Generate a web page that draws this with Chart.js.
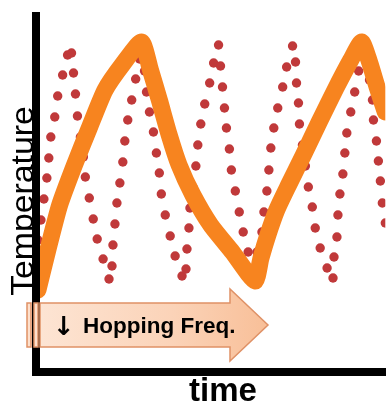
<!DOCTYPE html>
<html>
<head>
<meta charset="utf-8">
<script src="https://cdn.jsdelivr.net/npm/chart.js@4/dist/chart.umd.min.js"></script>
<style>
  html, body { margin: 0; padding: 0; background: #ffffff; }
  #wrap { width: 390px; height: 404px; position: relative; }
</style>
</head>
<body>
<div id="wrap"><canvas id="c" width="390" height="404"></canvas></div>
<script>
// Axis titles and annotation text
const yTitle = "Temperature";
const xTitle = "time";
const arrowSymbol = "\u2193";
const arrowLabel = "Hopping Freq.";

// Orange (slow) temperature trace: time / temperature values
const lineTime = [2, 12, 24, 39, 54, 70, 88, 107,
                  116, 125, 135, 145, 159, 177, 199, 222,
                  228, 235, 244, 256, 271, 287, 304, 319, 330,
                  338, 346, 354];
const lineTemp = [82, 122, 167, 207, 244, 282, 308, 330,
                  302, 272, 237, 207, 177, 147, 120, 91,
                  114, 137, 162, 187, 217, 250, 284, 312, 330,
                  310, 284, 260];

// Red dotted (fast hopping) trace: time / temperature values
const dotTime = [2, 5, 8, 11, 13, 15, 19, 22, 27, 32,
                 36, 38, 40, 42, 45, 48, 50, 54, 58, 62, 68, 74,
                 77, 78, 80, 82, 85, 88, 90, 93, 97, 101, 105, 109,
                 110, 112, 115, 119, 122, 125, 127, 131, 136, 141, 148,
                 152, 153, 155, 156, 159, 162, 164, 167, 171, 176, 180, 185,
                 187, 189, 191, 193, 196, 198, 202, 206, 210, 215, 220,
                 224, 229, 231, 234, 236, 238, 241, 245, 250, 254, 260,
                 263, 264, 266, 267, 270, 273, 276, 280, 283, 288, 295, 301,
                 302, 305, 306, 308, 311, 313, 315, 319, 323, 327, 331,
                 335, 338, 341, 342, 345, 347, 349, 351, 354];
const dotTemp = [132, 152, 173, 194, 214, 235, 255, 276, 297, 317,
                 319, 299, 278, 256, 235, 215, 195, 174, 153, 133, 113, 93,
                 106, 127, 148, 169, 189, 210, 231, 252, 272, 293, 313, 322,
                 301, 280, 260, 240, 219, 199, 178, 157, 136, 116, 96,
                 103, 123, 144, 164, 185, 206, 227, 248, 268, 289, 309, 327,
                 306, 285, 264, 244, 223, 202, 181, 160, 140, 120, 99,
                 120, 140, 160, 181, 202, 224, 244, 264, 285, 305, 326,
                 310, 289, 269, 248, 227, 206, 185, 165, 144, 124, 104, 94,
                 115, 135, 157, 178, 198, 219, 239, 260, 280, 301, 320,
                 316, 292, 272, 252, 231, 211, 191, 169, 149];

const timeMax = 354;
const tempMax = 356;

const orangeData = lineTime.map((t, i) => ({ x: t, y: lineTemp[i] }));
const dotData = dotTime.map((t, i) => ({ x: t, y: dotTemp[i] }));

const decorPlugin = {
  id: 'decor',
  afterDraw(chart) {
    const ctx = chart.ctx;
    ctx.save();
    // y axis title (rotated)
    ctx.save();
    ctx.translate(32.5, 201);
    ctx.rotate(-Math.PI / 2);
    ctx.scale(1.09, 1);
    ctx.font = '31px "Liberation Sans", Arial, sans-serif';
    ctx.fillStyle = '#000';
    ctx.textAlign = 'center';
    ctx.textBaseline = 'alphabetic';
    ctx.fillText(yTitle, 0, 0);
    ctx.restore();

    // x axis title
    ctx.font = 'bold 33px "Liberation Sans", Arial, sans-serif';
    ctx.fillStyle = '#000';
    ctx.textAlign = 'center';
    ctx.textBaseline = 'alphabetic';
    ctx.fillText(xTitle, 223, 401);

    // Annotation arrow
    const grad = ctx.createLinearGradient(27, 0, 268, 0);
    grad.addColorStop(0, '#fde6d6');
    grad.addColorStop(0.6, '#fbd3b8');
    grad.addColorStop(1, '#f8bf98');
    ctx.lineWidth = 1.5;
    ctx.strokeStyle = '#df9166';
    // tail stripes
    ctx.fillStyle = '#fde0cc';
    ctx.fillRect(27, 303, 4, 44);
    ctx.strokeRect(27, 303, 4, 44);
    ctx.fillRect(34, 303, 4, 44);
    ctx.strokeRect(34, 303, 4, 44);
    // body + head
    ctx.beginPath();
    ctx.moveTo(40, 303);
    ctx.lineTo(230, 303);
    ctx.lineTo(230, 289);
    ctx.lineTo(268, 325);
    ctx.lineTo(230, 361);
    ctx.lineTo(230, 347);
    ctx.lineTo(40, 347);
    ctx.closePath();
    ctx.fillStyle = grad;
    ctx.fill();
    ctx.stroke();

    ctx.fillStyle = '#000';
    ctx.textAlign = 'left';
    ctx.font = 'bold 26px "DejaVu Sans", sans-serif';
    ctx.fillText(arrowSymbol, 53, 335);
    ctx.font = 'bold 22.5px "Liberation Sans", Arial, sans-serif';
    ctx.fillText(arrowLabel, 83, 333);
    ctx.restore();
  }
};

new Chart(document.getElementById('c'), {
  type: 'line',
  data: {
    datasets: [
      {
        label: 'Temperature (slow)',
        data: orangeData,
        borderColor: '#f7841f',
        borderWidth: 17,
        borderJoinStyle: 'round',
        borderCapStyle: 'round',
        tension: 0.2,
        pointRadius: 0,
        fill: false
      },
      {
        label: 'Temperature (hopping)',
        data: dotData,
        showLine: false,
        pointRadius: 4.7,
        pointBorderWidth: 0,
        pointBackgroundColor: '#c0393a',
        pointBorderColor: '#c0393a'
      }
    ]
  },
  options: {
    responsive: false,
    animation: false,
    devicePixelRatio: 1,
    layout: { padding: { top: 16, right: 0, left: 0, bottom: 0 } },
    plugins: { legend: { display: false }, tooltip: { enabled: false } },
    scales: {
      x: {
        type: 'linear',
        min: 0,
        max: timeMax,
        grid: { display: false },
        ticks: { display: false },
        border: { display: true, color: '#000', width: 8, z: 1 },
        afterFit: (s) => { s.height = 32; }
      },
      y: {
        type: 'linear',
        min: 0,
        max: tempMax,
        grid: { display: false },
        ticks: { display: false },
        border: { display: true, color: '#000', width: 8, z: 1 },
        afterFit: (s) => { s.width = 36; }
      }
    }
  },
  plugins: [decorPlugin]
});
</script>
</body>
</html>
